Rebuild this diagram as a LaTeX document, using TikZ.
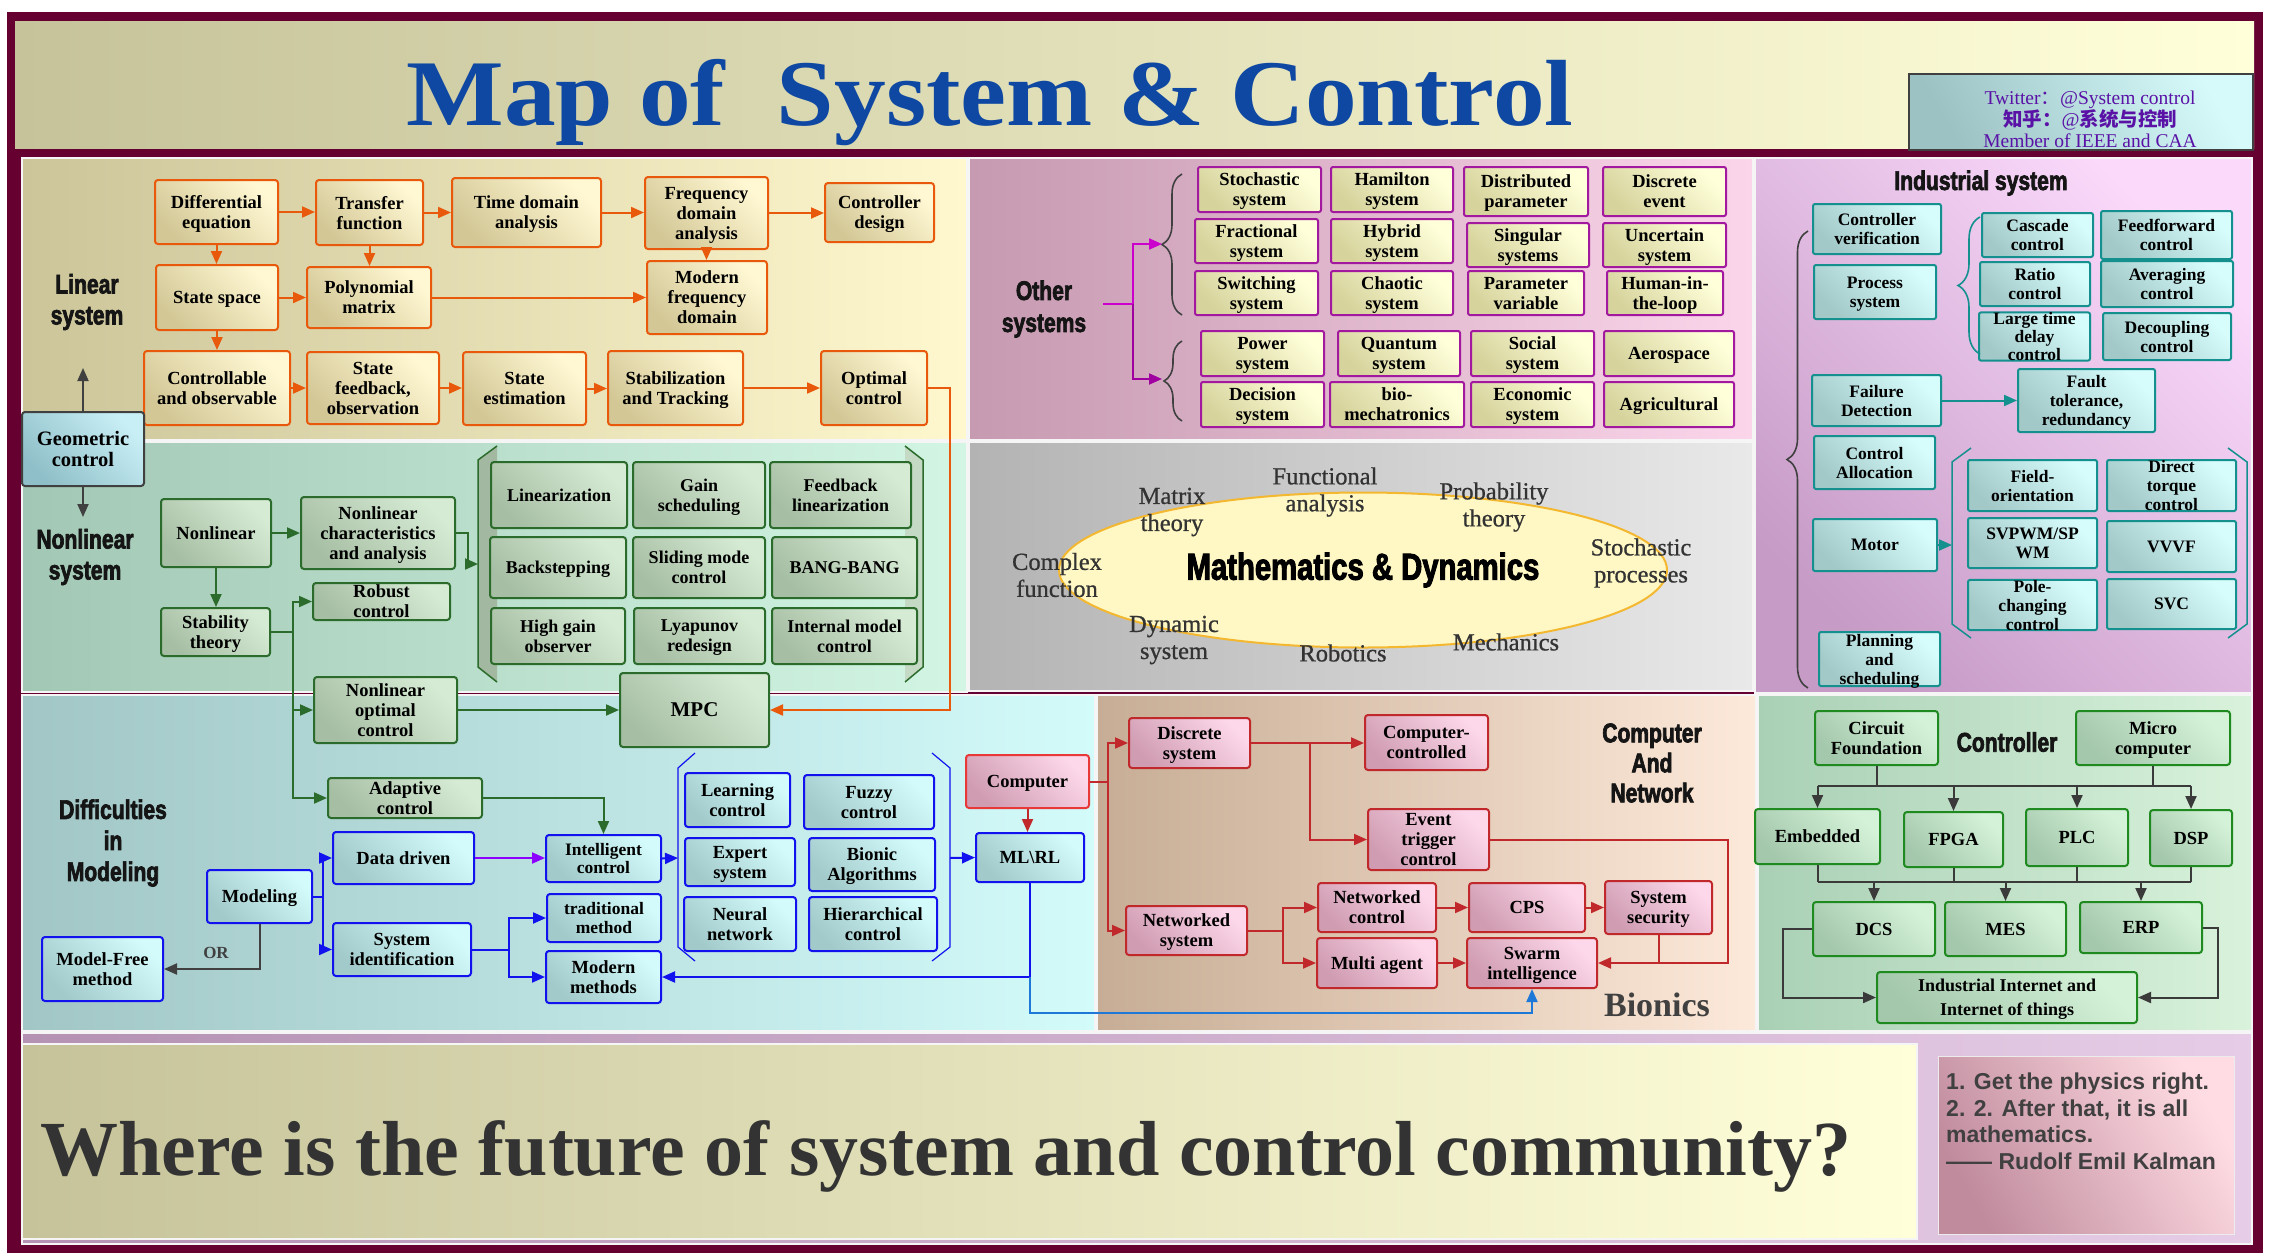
\documentclass[tikz,border=0pt]{standalone}
\usepackage{fontspec}
\usetikzlibrary{arrows.meta,shapes.geometric,decorations.pathreplacing}
\setmainfont{Liberation Serif}
\newfontfamily\headfont{Liberation Sans}[FakeStretch=0.78,FakeBold=2.5]
\newfontfamily\quotefont{Liberation Sans}
\newfontfamily\titlefont{Liberation Serif}[FakeStretch=1.1]
\newfontfamily\mathlblfont{Liberation Serif}[FakeBold=0.8]
\newfontfamily\cjkfont{Noto Sans CJK SC}

\definecolor{frameMaroon}{HTML}{650030}
\definecolor{titleBlue}{HTML}{0F48A2}
\definecolor{socialPurple}{HTML}{5A12A6}
\definecolor{inkGray}{HTML}{333333}
\definecolor{headInk}{HTML}{151515}
\definecolor{braceGray}{HTML}{404040}
\definecolor{bannerDark}{HTML}{C6C39A}
\definecolor{bannerLight}{HTML}{FFFFDA}
\definecolor{linPanelL}{HTML}{CCC59A}
\definecolor{linPanelR}{HTML}{FFF8CE}
\definecolor{othPanelL}{HTML}{C69AB1}
\definecolor{othPanelR}{HTML}{FBD6EB}
\definecolor{indPanelL}{HTML}{C69BC6}
\definecolor{indPanelR}{HTML}{FAD9FB}
\definecolor{nlPanelL}{HTML}{A2C8B5}
\definecolor{nlPanelR}{HTML}{D2F6E3}
\definecolor{mathPanelL}{HTML}{B3B3B3}
\definecolor{mathPanelR}{HTML}{E9E9E9}
\definecolor{modPanelL}{HTML}{A2C6C6}
\definecolor{modPanelR}{HTML}{D3FBFA}
\definecolor{cnPanelL}{HTML}{C7AD95}
\definecolor{cnPanelR}{HTML}{FDE9DA}
\definecolor{ctPanelL}{HTML}{A9D0B5}
\definecolor{ctPanelR}{HTML}{D9F2DB}
\definecolor{botPanelL}{HTML}{B592B4}
\definecolor{botPanelR}{HTML}{E6CCE6}
\definecolor{quoteDark}{HTML}{C08B9D}
\definecolor{quoteLight}{HTML}{FFDCE3}
\definecolor{socDark}{HTML}{9CC2C4}
\definecolor{socLight}{HTML}{D6FAFA}
\definecolor{geoDark}{HTML}{8FBFC8}
\definecolor{geoLight}{HTML}{C9EFF6}
\definecolor{linOrange}{HTML}{E8590C}
\definecolor{linDark}{HTML}{D3C796}
\definecolor{linLight}{HTML}{FFF8D3}
\definecolor{nlGreen}{HTML}{2B6B2B}
\definecolor{nlDark}{HTML}{A6BEA4}
\definecolor{nlLight}{HTML}{D6EBD4}
\definecolor{nlBrkL}{HTML}{A2B8A0}
\definecolor{nlBrkR}{HTML}{C4DAC4}
\definecolor{othMag}{HTML}{A2189F}
\definecolor{othUp}{HTML}{CC00CC}
\definecolor{othLow}{HTML}{A000A0}
\definecolor{othDark}{HTML}{D6D39C}
\definecolor{othLight}{HTML}{FFFFDA}
\definecolor{ellGold}{HTML}{F4B830}
\definecolor{ellFill}{HTML}{FFF8C4}
\definecolor{indTeal}{HTML}{14908F}
\definecolor{indDark}{HTML}{A2C8C8}
\definecolor{indLight}{HTML}{D6FCFC}
\definecolor{modBlue}{HTML}{1212EE}
\definecolor{modPurple}{HTML}{8B00FF}
\definecolor{modLightBlue}{HTML}{1E78D8}
\definecolor{modDark}{HTML}{A3CACA}
\definecolor{modLight}{HTML}{D4FBFB}
\definecolor{compRed}{HTML}{E83838}
\definecolor{cnRed}{HTML}{C0282C}
\definecolor{cnDark}{HTML}{D09CB2}
\definecolor{cnLight}{HTML}{FDD8EA}
\definecolor{ctGreen}{HTML}{1F8A1F}
\definecolor{ctDark}{HTML}{A4C8AC}
\definecolor{ctLight}{HTML}{D4F2D8}
\definecolor{ctLine}{HTML}{3A3A3A}

\newcommand{\bxfont}{\fontsize{18.5}{20}\selectfont\bfseries}

\tikzset{
  panel/.style={draw=white!92!gray, line width=1.2pt},
  sz/.style 2 args={minimum width=#1pt, minimum height=#2pt},
  nodebox/.style={rounded corners=3pt, line width=2pt, align=center, inner sep=0pt, font=\bxfont, text depth=-8pt},
  linbox/.style={nodebox, draw=linOrange, bottom color=linDark, top color=linLight, shading angle=-45},
  nlbox/.style={nodebox, draw=nlGreen, bottom color=nlDark, top color=nlLight, shading angle=-45},
  geobox/.style={nodebox, draw=braceGray, bottom color=geoDark, top color=geoLight, shading angle=-45, font=\fontsize{20.5}{21.5}\selectfont\bfseries},
  othbox/.style={nodebox, rounded corners=2pt, draw=othMag, bottom color=othDark, top color=othLight, shading angle=-45},
  indbox/.style={nodebox, rounded corners=2pt, draw=indTeal, bottom color=indDark, top color=indLight, shading angle=-45, font=\fontsize{17.5}{19}\selectfont\bfseries},
  modbox/.style={nodebox, draw=modBlue, bottom color=modDark, top color=modLight, shading angle=-45},
  compbox/.style={nodebox, draw=compRed, bottom color=cnDark, top color=cnLight, shading angle=-45},
  cnbox/.style={nodebox, draw=cnRed, bottom color=cnDark, top color=cnLight, shading angle=-45},
  ctbox/.style={nodebox, draw=ctGreen, bottom color=ctDark, top color=ctLight, shading angle=-45},
  head/.style={font=\headfont\fontsize{27}{31}\selectfont\bfseries, text=headInk, align=center},
  mathlbl/.style={font=\mathlblfont\fontsize{24.5}{27}\selectfont, text=inkGray, align=center},
  arr/.style={-{Triangle[length=13pt,width=11pt]}, line width=2pt},
  linarr/.style={arr, draw=linOrange},
  nlarr/.style={arr, draw=nlGreen},
  grayarr/.style={arr, draw=braceGray},
  othup/.style={arr, draw=othUp},
  othlow/.style={arr, draw=othLow},
  indarr/.style={arr, draw=indTeal},
  modarr/.style={arr, draw=modBlue},
  cnarr/.style={arr, draw=cnRed},
  ctarr/.style={arr, draw=ctLine},
  bracestyle/.style={decorate, draw=braceGray, line width=1.6pt},
}

\begin{document}
\begin{tikzpicture}[x=1pt,y=-1pt]
  \useasboundingbox (0,0) rectangle (2281,1259);
  \fill[white] (0,0) rectangle (2281,1259);
  \fill[frameMaroon] (7,12) rectangle (2263,1253);

  % title banner
  \shade[left color=bannerDark, right color=bannerLight] (15,21) rectangle (2254,148);
  \node[font=\titlefont\fontsize{94}{94}\selectfont\bfseries, text=titleBlue, anchor=base] (title) at (990,125) {Map of\ \ System \& Control};

  % panels
  \shade[panel, left color=linPanelL, right color=linPanelR] (22,158) rectangle (967,440);
  \shade[panel, left color=othPanelL, right color=othPanelR] (969,158) rectangle (1753,440);
  \shade[panel, bottom color=indPanelL, top color=indPanelR, shading angle=-45] (1755,158) rectangle (2252,693);
  \shade[panel, left color=nlPanelL, right color=nlPanelR] (22,442) rectangle (967,692);
  \shade[panel, left color=mathPanelL, right color=mathPanelR] (969,442) rectangle (1753,691);
  \shade[panel, left color=modPanelL, right color=modPanelR] (22,695) rectangle (1095,1031);
  \shade[panel, left color=cnPanelL, right color=cnPanelR] (1097,695) rectangle (1756,1031);
  \shade[panel, left color=ctPanelL, right color=ctPanelR] (1758,695) rectangle (2252,1031);
  \shade[panel, left color=botPanelL, right color=botPanelR] (22,1033) rectangle (2252,1244);
  \shade[panel, left color=bannerDark, right color=bannerLight] (22,1044) rectangle (1917,1239);

  % social box
  \node[draw=braceGray, line width=1.5pt, bottom color=socDark, top color=socLight, shading angle=-60, sz={344}{76}] (social) at (2081,112) {};
  \node[font=\fontsize{19.5}{21}\selectfont, text=socialPurple, align=center] (socialtxt) at (2090,119) {Twitter{\cjkfont ：}@System control\\{\cjkfont\bfseries 知乎：}@{\cjkfont\bfseries 系统与控制}\\Member of IEEE and CAA};

  % ---------------- linear system ----------------
  \node[head] (linlbl) at (87,302) {Linear\\system};
  \node[linbox, sz={123}{64}] (diffeq) at (216.5,212) {Differential\\equation};
  \node[linbox, sz={107}{65}] (transfer) at (369.5,212.5) {Transfer\\function};
  \node[linbox, sz={149}{69}] (timedom) at (526.5,212.5) {Time domain\\analysis};
  \node[linbox, sz={123}{72}] (freqdom) at (706.5,213) {Frequency\\domain\\analysis};
  \node[linbox, sz={109}{59}] (ctrldes) at (879.5,212.5) {Controller\\design};
  \node[linbox, sz={122}{65}] (statesp) at (217,297.5) {State space};
  \node[linbox, sz={124}{61}] (polymat) at (369,297.5) {Polynomial\\matrix};
  \node[linbox, sz={120}{73}] (modfreq) at (707,297.5) {Modern\\frequency\\domain};
  \node[linbox, sz={146}{74}] (ctrlobs) at (217,388) {Controllable\\and observable};
  \node[linbox, sz={132}{72}] (statefb) at (373,388) {State\\feedback,\\observation};
  \node[linbox, sz={123}{73}] (stateest) at (524.5,388.5) {State\\estimation};
  \node[linbox, sz={135}{74}] (stabtrack) at (675.5,388) {Stabilization\\and Tracking};
  \node[linbox, sz={106}{74}] (optctrl) at (874,388) {Optimal\\control};

  \draw[linarr] (diffeq.east) -- (diffeq.east -| transfer.west);
  \draw[linarr] (transfer.east) -- (transfer.east -| timedom.west);
  \draw[linarr] (timedom.east) -- (timedom.east -| freqdom.west);
  \draw[linarr] (freqdom.east) -- (freqdom.east -| ctrldes.west);
  \draw[linarr] (freqdom.south) -- (freqdom.south |- modfreq.north);
  \draw[linarr] (diffeq.south) -- (diffeq.south |- statesp.north);
  \draw[linarr] (transfer.south) -- (transfer.south |- polymat.north);
  \draw[linarr] (statesp.east) -- (statesp.east -| polymat.west);
  \draw[linarr] (polymat.east) -- (polymat.east -| modfreq.west);
  \draw[linarr] (statesp.south) -- (statesp.south |- ctrlobs.north);
  \draw[linarr] (ctrlobs.east) -- (ctrlobs.east -| statefb.west);
  \draw[linarr] (statefb.east) -- (statefb.east -| stateest.west);
  \draw[linarr] (stateest.east) -- (stateest.east -| stabtrack.west);
  \draw[linarr] (stabtrack.east) -- (stabtrack.east -| optctrl.west);

  % ---------------- geometric control ----------------
  \node[geobox, sz={122}{74}] (geoctrl) at (83,449) {Geometric\\control};
  \coordinate (linup) at (83,368);
  \coordinate (nldown) at (83,517);
  \draw[grayarr] (geoctrl) -- (linup);
  \draw[grayarr] (geoctrl) -- (nldown);

  % ---------------- nonlinear system ----------------
  \node[head] (nllbl) at (85,557) {Nonlinear\\system};
  \node[nlbox, sz={110}{68}] (nonlin) at (216,533) {Nonlinear};
  \node[nlbox, sz={154}{72}] (nlchar) at (378,533) {Nonlinear\\characteristics\\and analysis};
  \node[nlbox, sz={109}{48}] (stabthy) at (215.5,632) {Stability\\theory};
  \node[nlbox, sz={137}{37}] (robust) at (381.5,601.5) {Robust\\control};
  \node[nlbox, sz={143}{66}] (nlopt) at (385.5,710) {Nonlinear\\optimal\\control};
  \node[nlbox, sz={154}{40}] (adaptive) at (405,798) {Adaptive\\control};

  \fill[nlBrkL] (497,446) -- (478,460) -- (478,667) -- (497,682) -- cycle;
  \draw[nlGreen, line width=1.5pt] (497,446) -- (478,460) -- (478,667) -- (497,682);
  \fill[nlBrkR] (905,446) -- (923,460) -- (923,667) -- (905,682) -- cycle;
  \draw[nlGreen, line width=1.5pt] (905,446) -- (923,460) -- (923,667) -- (905,682);
  \coordinate (nlbrk) at (478,564);

  \node[nlbox, sz={136}{66}, font=\fontsize{18}{20}\selectfont\bfseries] (linzn) at (559,495) {Linearization};
  \node[nlbox, sz={132}{66}, font=\fontsize{18}{20}\selectfont\bfseries] (gainsch) at (699,495) {Gain\\scheduling};
  \node[nlbox, sz={141}{66}, font=\fontsize{18}{20}\selectfont\bfseries] (fblin) at (840.5,495) {Feedback\\linearization};
  \node[nlbox, sz={136}{61}, font=\fontsize{18}{20}\selectfont\bfseries] (backstep) at (558,567.5) {Backstepping};
  \node[nlbox, sz={132}{61}, font=\fontsize{18}{20}\selectfont\bfseries] (sliding) at (699,567.5) {Sliding mode\\control};
  \node[nlbox, sz={145}{61}, font=\fontsize{18}{20}\selectfont\bfseries] (bangbang) at (844.5,567.5) {BANG-BANG};
  \node[nlbox, sz={134}{56}, font=\fontsize{18}{20}\selectfont\bfseries] (highgain) at (558,636) {High gain\\observer};
  \node[nlbox, sz={131}{56}, font=\fontsize{18}{20}\selectfont\bfseries] (lyapunov) at (699.5,636) {Lyapunov\\redesign};
  \node[nlbox, sz={145}{56}, font=\fontsize{18}{20}\selectfont\bfseries] (intmodel) at (844.5,636) {Internal model\\control};
  \node[nlbox, sz={149}{74}, font=\fontsize{21}{22}\selectfont\bfseries] (mpc) at (694.5,710) {MPC};

  \draw[nlarr] (nonlin.east) -- (nonlin.east -| nlchar.west);
  \draw[nlarr] (nonlin.south) -- (nonlin.south |- stabthy.north);
  \draw[nlarr] (nlchar.east) -- ++(12,0) |- (nlbrk);
  \draw[nlarr] (stabthy.east) -- ++(22,0) |- (robust.west);
  \draw[nlarr] (stabthy.east) -- ++(22,0) |- (nlopt.west);
  \draw[nlarr] (stabthy.east) -- ++(22,0) |- (adaptive.west);
  \draw[nlarr] (nlopt.east) -- (nlopt.east -| mpc.west);
  \draw[linarr] (optctrl.east) -- ++(22,0) |- (mpc.east);

  % ---------------- other systems ----------------
  \node[head, font=\headfont\fontsize{27}{32}\selectfont\bfseries] (othlbl) at (1044,309) {Other\\systems};
  \node[othbox, sz={123}{45}] (stochsys) at (1259.5,189.5) {Stochastic\\system};
  \node[othbox, sz={122}{45}] (hamsys) at (1392,189.5) {Hamilton\\system};
  \node[othbox, sz={124}{49}] (distpar) at (1526,191.5) {Distributed\\parameter};
  \node[othbox, sz={123}{49}] (discev) at (1664.5,191.5) {Discrete\\event};
  \node[othbox, sz={123}{44}] (fracsys) at (1256.5,241) {Fractional\\system};
  \node[othbox, sz={122}{44}] (hybsys) at (1392,241) {Hybrid\\system};
  \node[othbox, sz={122}{44}] (singsys) at (1528,245) {Singular\\systems};
  \node[othbox, sz={123}{44}] (uncsys) at (1664.5,245) {Uncertain\\system};
  \node[othbox, sz={123}{44}] (switsys) at (1256.5,293) {Switching\\system};
  \node[othbox, sz={122}{44}] (chaosys) at (1392,293) {Chaotic\\system};
  \node[othbox, sz={116}{44}] (parvar) at (1526,293) {Parameter\\variable};
  \node[othbox, sz={116}{44}] (humloop) at (1665,293) {Human-in-\\the-loop};
  \node[othbox, sz={123}{45}] (powsys) at (1262.5,353.5) {Power\\system};
  \node[othbox, sz={122}{45}] (quansys) at (1399,353.5) {Quantum\\system};
  \node[othbox, sz={123}{45}] (socsys) at (1532.5,353.5) {Social\\system};
  \node[othbox, sz={130}{45}] (aerosp) at (1669,353.5) {Aerospace};
  \node[othbox, sz={123}{45}] (decsys) at (1262.5,404.5) {Decision\\system};
  \node[othbox, sz={134}{45}] (biomech) at (1397,404.5) {bio-\\mechatronics};
  \node[othbox, sz={123}{45}] (econsys) at (1532.5,404.5) {Economic\\system};
  \node[othbox, sz={130}{45}] (agric) at (1669,404.5) {Agricultural};

  \draw[bracestyle, decoration={brace, amplitude=20pt}] (1182,315) -- (1182,174);
  \draw[bracestyle, decoration={brace, amplitude=18pt}] (1182,421) -- (1182,341);
  \coordinate (ostart) at (1103,304);
  \coordinate (ojoin) at (1133,304);
  \coordinate (otip1) at (1162,244);
  \coordinate (otip2) at (1162,379);
  \draw[othup] (ostart) -- (ojoin) |- (otip1);
  \draw[othlow] (ojoin) |- (otip2);

  % ---------------- mathematics & dynamics ----------------
  \node[ellipse, draw=ellGold, line width=2pt, fill=ellFill, minimum width=608pt, minimum height=155pt, inner sep=0pt, font=\headfont\fontsize{37.5}{40}\selectfont\bfseries, text=black] (mathdyn) at (1363,570) {Mathematics \& Dynamics};
  \node[mathlbl] (matrix) at (1172,512) {Matrix\\theory};
  \node[mathlbl] (functional) at (1325,492) {Functional\\analysis};
  \node[mathlbl] (probab) at (1494,507) {Probability\\theory};
  \node[mathlbl] (complexf) at (1057,575) {Complex\\function};
  \node[mathlbl] (stochproc) at (1641,563) {Stochastic\\processes};
  \node[mathlbl] (dynsys) at (1174,640) {Dynamic\\system};
  \node[mathlbl] (robotics) at (1343,653) {Robotics};
  \node[mathlbl] (mechanics) at (1506,642) {Mechanics};

  % ---------------- industrial system ----------------
  \node[head] (indlbl) at (1981,183) {Industrial system};
  \node[indbox, sz={128}{50}] (ctrlver) at (1877,229) {Controller\\verification};
  \node[indbox, sz={122}{54}] (procsys) at (1875,292) {Process\\system};
  \node[indbox, sz={111}{44}] (cascade) at (2037.5,235) {Cascade\\control};
  \node[indbox, sz={131}{48}] (feedfwd) at (2166.5,235) {Feedforward\\control};
  \node[indbox, sz={110}{44}] (ratioc) at (2035,284) {Ratio\\control};
  \node[indbox, sz={132}{46}] (avgctrl) at (2167,284) {Averaging\\control};
  \node[indbox, sz={111}{47}, font=\fontsize{17.5}{18}\selectfont\bfseries] (ltdelay) at (2034.5,336.5) {Large time\\delay\\control};
  \node[indbox, sz={128}{47}] (decoupl) at (2167,336.5) {Decoupling\\control};
  \node[indbox, sz={129}{51}] (faildet) at (1876.5,400.5) {Failure\\Detection};
  \node[indbox, sz={137}{63}] (faulttol) at (2086.5,400.5) {Fault\\tolerance,\\redundancy};
  \node[indbox, sz={121}{53}] (ctrlalloc) at (1874.5,462.5) {Control\\Allocation};
  \node[indbox, sz={124}{52}] (motor) at (1875,545) {Motor};
  \node[indbox, sz={129}{51}] (fieldor) at (2032.5,485.5) {Field-\\orientation};
  \node[indbox, sz={129}{51}] (dtorque) at (2171.5,485.5) {Direct\\torque\\control};
  \node[indbox, sz={129}{50}] (svpwm) at (2032.5,543) {SVPWM/SP\\WM};
  \node[indbox, sz={129}{51}] (vvvf) at (2171.5,546.5) {VVVF};
  \node[indbox, sz={129}{50}] (polechg) at (2032.5,605) {Pole-\\changing\\control};
  \node[indbox, sz={129}{50}] (svc) at (2171.5,604) {SVC};
  \node[indbox, sz={121}{54}] (plansch) at (1879.5,659) {Planning\\and\\scheduling};

  \draw[bracestyle, decoration={brace, amplitude=21pt}] (1808,688) -- (1808,231);
  \draw[bracestyle, draw=indTeal, decoration={brace, amplitude=22pt}] (1980,354) -- (1980,217);
  \draw[indTeal, line width=1.5pt] (1971,448) -- (1952,462) -- (1952,624) -- (1971,638);
  \draw[indTeal, line width=1.5pt] (2228,448) -- (2247,462) -- (2247,624) -- (2228,638);
  \coordinate (motbrk) at (1952,545);
  \draw[indarr] (faildet.east) -- (faildet.east -| faulttol.west);
  \draw[indarr] (motor.east) -- (motbrk);

  % ---------------- difficulties in modeling ----------------
  \node[head] (modlbl) at (113,843) {Difficulties\\in\\Modeling};
  \node[modbox, sz={105}{53}] (modeling) at (259.5,896.5) {Modeling};
  \node[modbox, sz={121}{64}] (modelfree) at (102.5,969) {Model-Free\\method};
  \node[modbox, sz={141}{52}] (datadrv) at (403.5,858) {Data driven};
  \node[modbox, sz={138}{53}] (sysident) at (402,949.5) {System\\identification};
  \node[modbox, sz={115}{47}, font=\fontsize{17.5}{18.5}\selectfont\bfseries] (intelctrl) at (603.5,858.5) {Intelligent\\control};
  \node[modbox, sz={114}{48}, font=\fontsize{17.5}{18.5}\selectfont\bfseries] (tradmeth) at (604,918) {traditional\\method};
  \node[modbox, sz={115}{52}] (modmeth) at (603.5,977) {Modern\\methods};
  \node[modbox, sz={105}{54}] (learnctrl) at (737.5,800) {Learning\\control};
  \node[modbox, sz={130}{54}] (fuzzyctrl) at (869,802) {Fuzzy\\control};
  \node[modbox, sz={110}{48}] (expertsys) at (740,862) {Expert\\system};
  \node[modbox, sz={126}{53}] (bionicalg) at (872,864.5) {Bionic\\Algorithms};
  \node[modbox, sz={112}{54}] (neuralnet) at (740,924) {Neural\\network};
  \node[modbox, sz={128}{54}] (hierctrl) at (873,924) {Hierarchical\\control};
  \node[compbox, sz={123}{53}] (computer) at (1027.5,781.5) {Computer};
  \node[modbox, sz={108}{49}] (mlrl) at (1030,857.5) {ML\textbackslash RL};
  \node[font=\fontsize{17}{18}\selectfont\bfseries, text=braceGray] (orlbl) at (216,953) {OR};

  \draw[modBlue, line width=1.2pt] (695,753) -- (678,768) -- (678,947) -- (695,961);
  \draw[modBlue, line width=1.2pt] (932,753) -- (950,768) -- (950,947) -- (932,961);
  \coordinate (intbrk) at (678,858);
  \coordinate (intbrkr) at (950,858);

  \draw[grayarr] (modeling.south) |- (modelfree.east);
  \draw[modarr] (modeling.east) -- ++(10,0) |- (datadrv.west);
  \draw[modarr] (modeling.east) -- ++(10,0) |- (sysident.west);
  \draw[arr, draw=modPurple] (datadrv.east) -- (datadrv.east -| intelctrl.west);
  \draw[modarr] (sysident.east) -- ++(37,0) |- (tradmeth.west);
  \draw[modarr] (sysident.east) -- ++(37,0) |- (modmeth.west);
  \draw[modarr] (intelctrl.east) -- (intbrk);
  \draw[modarr] (intbrkr) -- (mlrl.west);
  \draw[nlarr] (adaptive.east) -| (intelctrl.north);
  \draw[cnarr] (computer.south) -- (computer.south |- mlrl.north);
  \draw[modarr] (mlrl.south) |- (modmeth.east);

  % ---------------- computer and network ----------------
  \node[head, font=\headfont\fontsize{27}{30}\selectfont\bfseries] (cnlbl) at (1652,763) {Computer\\And\\Network};
  \node[font=\fontsize{34}{36}\selectfont\bfseries, text=braceGray] (bionics) at (1657,1005) {Bionics};
  \node[cnbox, sz={121}{50}] (discsys) at (1189.5,743) {Discrete\\system};
  \node[cnbox, sz={123}{55}] (compctrl) at (1426.5,742.5) {Computer-\\controlled};
  \node[cnbox, sz={121}{61}] (eventtrig) at (1428.5,839.5) {Event\\trigger\\control};
  \node[cnbox, sz={121}{49}] (netsys) at (1186.5,930.5) {Networked\\system};
  \node[cnbox, sz={118}{49}] (netctrl) at (1377,907.5) {Networked\\control};
  \node[cnbox, sz={116}{49}] (cps) at (1527,907.5) {CPS};
  \node[cnbox, sz={107}{53}] (syssec) at (1658.5,907.5) {System\\security};
  \node[cnbox, sz={120}{50}] (multiag) at (1377,963) {Multi agent};
  \node[cnbox, sz={130}{50}] (swarm) at (1532,963) {Swarm\\intelligence};

  \draw[cnRed, line width=2pt] (computer.east) -- ++(18,0) coordinate (cjoin);
  \draw[cnarr] (cjoin) |- (discsys.west);
  \draw[cnarr] (cjoin) |- (netsys.west);
  \draw[cnarr] (discsys.east) -- (discsys.east -| compctrl.west);
  \draw[cnarr] (discsys.east) -- ++(59,0) |- (eventtrig.west);
  \draw[cnarr] (eventtrig.east) -- ++(238,0) |- (swarm.east);
  \draw[cnRed, line width=2pt] (syssec.south) -- (syssec.south |- swarm.east);
  \draw[cnarr] (netsys.east) -- ++(35,0) |- (netctrl.west);
  \draw[cnarr] (netsys.east) -- ++(35,0) |- (multiag.west);
  \draw[cnarr] (netctrl.east) -- (netctrl.east -| cps.west);
  \draw[cnarr] (cps.east) -- (cps.east -| syssec.west);
  \draw[cnarr] (multiag.east) -- (multiag.east -| swarm.west);
  \draw[arr, draw=modLightBlue] (mlrl.south |- modmeth.east) -- ++(0,36) -| (swarm.south);

  % ---------------- controller ----------------
  \node[head] (ctlbl) at (2007,742) {Controller};
  \node[ctbox, sz={123}{54}] (circuit) at (1876.5,738) {Circuit\\Foundation};
  \node[ctbox, sz={154}{54}] (microc) at (2153,738) {Micro\\computer};
  \node[ctbox, sz={125}{55}] (embedded) at (1817.5,836.5) {Embedded};
  \node[ctbox, sz={99}{55}] (fpga) at (1953.5,839.5) {FPGA};
  \node[ctbox, sz={102}{57}] (plc) at (2077,837.5) {PLC};
  \node[ctbox, sz={82}{56}] (dsp) at (2191,838) {DSP};
  \node[ctbox, sz={122}{54}] (dcs) at (1874,929) {DCS};
  \node[ctbox, sz={121}{54}] (mes) at (2005.5,929) {MES};
  \node[ctbox, sz={122}{51}] (erp) at (2141,927.5) {ERP};
  \node[ctbox, sz={260}{51}, font=\fontsize{18}{24}\selectfont\bfseries] (iiot) at (2007,997.5) {Industrial Internet and\\Internet of things};

  \coordinate (cbus) at (0,786);
  \coordinate (cbusb) at (0,882);
  \draw[ctLine, line width=2pt] (circuit.south) -- (circuit.south |- cbus);
  \draw[ctLine, line width=2pt] (microc.south) -- (microc.south |- cbus);
  \draw[ctLine, line width=2pt] (embedded.north |- cbus) -- (dsp.north |- cbus);
  \foreach \tgt in {embedded,fpga,plc,dsp}
    \draw[ctarr] (\tgt.north |- cbus) -- (\tgt.north);
  \foreach \src in {embedded,fpga,plc,dsp}
    \draw[ctLine, line width=2pt] (\src.south) -- (\src.south |- cbusb);
  \draw[ctLine, line width=2pt] (embedded.south |- cbusb) -- (dsp.south |- cbusb);
  \foreach \tgt in {dcs,mes,erp}
    \draw[ctarr] (\tgt.north |- cbusb) -- (\tgt.north);
  \draw[ctarr] (dcs.west) -- ++(-29,0) |- (iiot.west);
  \draw[ctarr] (erp.east) -- ++(15,0) |- (iiot.east);

  % ---------------- bottom ----------------
  \node[font=\fontsize{78}{80}\selectfont\bfseries, text=inkGray, anchor=base] (future) at (946,1175) {Where is the future of system and control community?};
  \node[draw=white!85!gray, line width=1pt, bottom color=quoteDark, top color=quoteLight, shading angle=-60, sz={296}{178}] (quote) at (2086,1145) {};
  \node[font=\quotefont\fontsize{23}{26.5}\selectfont\bfseries, text=braceGray, align=left, anchor=north west, inner sep=0pt] (kalman) at (1946,1073) {1. Get the physics right.\\2. 2. After that, it is all\\mathematics.\\—— Rudolf Emil Kalman};
\end{tikzpicture}
\end{document}
